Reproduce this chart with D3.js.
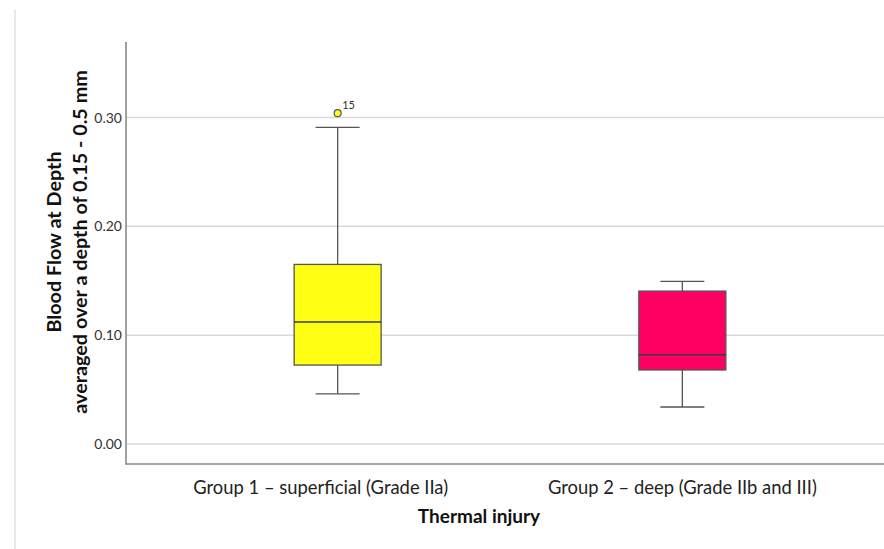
<!DOCTYPE html>
<html><head><meta charset="utf-8">
<script src="https://cdn.jsdelivr.net/npm/d3@7"></script>
<style>body{margin:0;background:#fff}svg{display:block}text{font-family:Lato,"Open Sans",sans-serif}</style>
</head><body><svg id="c" width="884" height="549"></svg>
<script>
const groups = ["Group 1 – superficial (Grade IIa)", "Group 2 – deep (Grade IIb and III)"];
const whiskerLow = [0.046, 0.034];
const q1 = [0.0725, 0.068];
const median = [0.112, 0.082];
const q3 = [0.165, 0.1405];
const whiskerHigh = [0.291, 0.1495];
const outliers = [{g: 0, v: 0.304, label: "15"}];
const fills = ["#ffff14", "#ff0062"];
const yTicks = [0, 0.1, 0.2, 0.3];

const svg = d3.select("#c");
const pLeft = 126, pRight = 894, pTop = 42, pBottom = 464;
const y = d3.scaleLinear().domain([-0.0184, 0.3694]).range([pBottom, pTop]);
const x = d3.scalePoint().domain(groups).range([pLeft, pRight]).padding(0.614);
const boxW = 87, capW = 44;

// left border
svg.append("line").attr("x1", 15).attr("x2", 15).attr("y1", 10).attr("y2", 549)
  .attr("stroke", "#e0e0e0").attr("stroke-width", 1.5);

// gridlines
svg.append("g").selectAll("line").data(yTicks).join("line")
  .attr("x1", pLeft).attr("x2", 884).attr("y1", d => y(d)).attr("y2", d => y(d))
  .attr("stroke", "#d9d9d9").attr("stroke-width", 1.5);

// y axis
const ya = svg.append("g").attr("transform", `translate(${pLeft},0)`)
  .call(d3.axisLeft(y).tickValues(yTicks).tickFormat(d3.format(".2f")).tickSize(0).tickPadding(4));
ya.select(".domain").remove();
ya.selectAll("text").attr("font-size", 14).attr("fill", "#333").style("font-family", "Lato, sans-serif");
svg.append("line").attr("x1", pLeft).attr("x2", pLeft).attr("y1", pTop).attr("y2", pBottom + 0.75)
  .attr("stroke", "#8a8a8a").attr("stroke-width", 1.6);
svg.append("line").attr("x1", pLeft).attr("x2", 884).attr("y1", pBottom).attr("y2", pBottom)
  .attr("stroke", "#8a8a8a").attr("stroke-width", 1.6);

// x labels
const labelDx = [-17, 0];
svg.append("g").selectAll("text").data(groups).join("text")
  .attr("x", (d, i) => x(d) + labelDx[i]).attr("y", 494)
  .attr("text-anchor", "middle").attr("font-size", 18.4).attr("fill", "#222").text(d => d);

svg.append("text").attr("x", 479).attr("y", 523).attr("text-anchor", "middle")
  .attr("font-size", 19).attr("font-weight", "bold").attr("fill", "#111").text("Thermal injury");

// y title
const yt = svg.append("text").attr("transform", "translate(0,242) rotate(-90)")
  .attr("text-anchor", "middle").attr("font-weight", "bold").attr("font-size", 19.8).attr("fill", "#111");
yt.append("tspan").attr("x", 0).attr("y", 61).text("Blood Flow at Depth");
yt.append("tspan").attr("x", 0).attr("y", 87).text("averaged over a depth of 0.15 - 0.5 mm");

// boxes
const g = svg.append("g").selectAll("g").data(groups).join("g");
const stroke = "#555", sw = 1.3;
g.append("line").attr("x1", d => x(d)).attr("x2", d => x(d))
  .attr("y1", (d, i) => y(whiskerHigh[i])).attr("y2", (d, i) => y(q3[i])).attr("stroke", stroke).attr("stroke-width", sw);
g.append("line").attr("x1", d => x(d)).attr("x2", d => x(d))
  .attr("y1", (d, i) => y(q1[i])).attr("y2", (d, i) => y(whiskerLow[i])).attr("stroke", stroke).attr("stroke-width", sw);
g.append("line").attr("x1", d => x(d) - capW / 2).attr("x2", d => x(d) + capW / 2)
  .attr("y1", (d, i) => y(whiskerHigh[i])).attr("y2", (d, i) => y(whiskerHigh[i])).attr("stroke", stroke).attr("stroke-width", sw);
g.append("line").attr("x1", d => x(d) - capW / 2).attr("x2", d => x(d) + capW / 2)
  .attr("y1", (d, i) => y(whiskerLow[i])).attr("y2", (d, i) => y(whiskerLow[i])).attr("stroke", stroke).attr("stroke-width", sw);
g.append("rect").attr("x", d => x(d) - boxW / 2).attr("width", boxW)
  .attr("y", (d, i) => y(q3[i])).attr("height", (d, i) => y(q1[i]) - y(q3[i]))
  .attr("fill", (d, i) => fills[i]).attr("stroke", stroke).attr("stroke-width", sw);
g.append("line").attr("x1", d => x(d) - boxW / 2).attr("x2", d => x(d) + boxW / 2)
  .attr("y1", (d, i) => y(median[i])).attr("y2", (d, i) => y(median[i])).attr("stroke", "#3a3a3a").attr("stroke-width", 1.5);

// outliers
const o = svg.append("g").selectAll("g").data(outliers).join("g");
o.append("circle").attr("cx", d => x(groups[d.g])).attr("cy", d => y(d.v)).attr("r", 3.5)
  .attr("fill", "#ffff14").attr("stroke", "#555").attr("stroke-width", 1.2);
o.append("text").attr("x", d => x(groups[d.g]) + 4.5).attr("y", d => y(d.v) - 4.5)
  .attr("font-size", 11).attr("fill", "#333").text(d => d.label);
</script></body></html>
